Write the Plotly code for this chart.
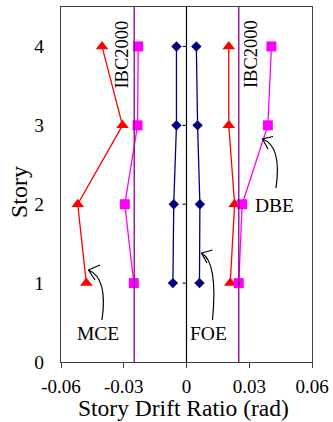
import plotly.graph_objects as go

stories = [1, 2, 3, 4]
mce_neg = [-0.0479, -0.0520, -0.0306, -0.0404]
mce_pos = [0.0209, 0.0230, 0.0202, 0.0202]
dbe_neg = [-0.0252, -0.0295, -0.0234, -0.0231]
dbe_pos = [0.0250, 0.0266, 0.0389, 0.0406]
foe_neg = [-0.0065, -0.0061, -0.0048, -0.0048]
foe_pos = [0.0062, 0.0064, 0.0053, 0.0047]
ibc_limit = 0.025
x_ticks = [-0.06, -0.03, 0, 0.03, 0.06]
x_tick_text = ["-0.06", "-0.03", "0", "0.03", "0.06"]
y_ticks = [0, 1, 2, 3, 4]
x_title = "Story Drift Ratio (rad)"
y_title = "Story"

FONT = "Liberation Serif, Times New Roman, serif"
W, H = 333, 422
L, R, T, B = 61, 21, 7, 60
PW, PH = W - L - R, H - T - B

def px2paper(px, py):
    return (px - L) / PW, (H - B - py) / PH

def pp(px, py):
    a, b = px2paper(px, py)
    return f"{a:.4f},{b:.4f}"

fig = go.Figure()

def add_series(xs, color, symbol, size):
    fig.add_trace(go.Scatter(
        x=xs, y=stories, mode="lines+markers",
        line=dict(color=color, width=1.3),
        marker=dict(color=color, symbol=symbol, size=size, line=dict(width=0)),
        showlegend=False, hoverinfo="skip"))

add_series(mce_neg, "#FF0000", "triangle-up", 11)
add_series(mce_pos, "#FF0000", "triangle-up", 11)
add_series(dbe_neg, "#FF00FF", "square", 10)
add_series(dbe_pos, "#FF00FF", "square", 10)
add_series(foe_neg, "#000080", "diamond", 8)
add_series(foe_pos, "#000080", "diamond", 8)

shapes = []
for xv in (-ibc_limit, ibc_limit):
    shapes.append(dict(type="line", xref="x", yref="paper", x0=xv, x1=xv, y0=0, y1=1,
                       line=dict(color="#8B008B", width=1.3)))
# zero axis line
shapes.append(dict(type="line", xref="x", yref="paper", x0=0, x1=0, y0=0, y1=1,
                   line=dict(color="black", width=1.2), layer="below"))
# small ticks on the zero axis
for s in stories:
    shapes.append(dict(type="line", xref="x", yref="y", xsizemode="pixel", xanchor=0,
                       x0=-4, x1=0, y0=s, y1=s, line=dict(color="black", width=1)))

# curved arrows
arrows = [
    # (start, control, tip, arm1, arm2)
    ((102, 320), (108, 278), (88.5, 270), (100, 265), (95, 280)),
    ((212.5, 320), (218, 262), (201.5, 253), (212.5, 250), (207, 263)),
    ((276, 188), (282, 146), (262.5, 139), (273, 136.5), (268, 149)),
]
for st, ctl, tip, a1, a2 in arrows:
    path = f"M {pp(*st)} Q {pp(*ctl)} {pp(*tip)}"
    shapes.append(dict(type="path", xref="paper", yref="paper", path=path,
                       line=dict(color="black", width=1.2)))
    path2 = f"M {pp(*a1)} L {pp(*tip)} L {pp(*a2)}"
    shapes.append(dict(type="path", xref="paper", yref="paper", path=path2,
                       line=dict(color="black", width=1.2)))

ann_font = dict(family=FONT, size=19.5, color="black")
xt_x, xt_y = px2paper(183, 408)
yt_x, yt_y = px2paper(19, 192)
annotations = [
    dict(x=-ibc_limit, y=3.9, xref="x", yref="y", text="IBC2000", textangle=-90,
         showarrow=False, xanchor="right", yanchor="middle", xshift=0,
         font=dict(family=FONT, size=18.5, color="black")),
    dict(x=ibc_limit, y=3.9, xref="x", yref="y", text="IBC2000", textangle=-90,
         showarrow=False, xanchor="left", yanchor="middle", xshift=1,
         font=dict(family=FONT, size=18.5, color="black")),
    dict(x=-0.0423, y=0.355, xref="x", yref="y", text="MCE", showarrow=False, font=ann_font),
    dict(x=0.0105, y=0.355, xref="x", yref="y", text="FOE", showarrow=False, font=ann_font),
    dict(x=0.042, y=1.99, xref="x", yref="y", text="DBE", showarrow=False, font=ann_font),
    dict(x=xt_x, y=xt_y, xref="paper", yref="paper", text=x_title, showarrow=False,
         xanchor="center", yanchor="middle",
         font=dict(family=FONT, size=23.5, color="black")),
    dict(x=yt_x, y=yt_y, xref="paper", yref="paper", text=y_title, showarrow=False,
         textangle=-90, xanchor="center", yanchor="middle",
         font=dict(family=FONT, size=24, color="black")),
]

fig.update_layout(
    width=W, height=H,
    margin=dict(l=L, r=R, t=T, b=B, autoexpand=False),
    paper_bgcolor="white", plot_bgcolor="white",
    font=dict(family=FONT, size=19, color="black"),
    shapes=shapes, annotations=annotations,
    xaxis=dict(range=[-0.06, 0.06], tickvals=x_ticks, ticktext=x_tick_text,
               showgrid=False, zeroline=False, showline=True, linecolor="#404040",
               linewidth=1.3, mirror=True, ticks="outside", ticklen=5,
               tickcolor="#404040", tickwidth=1.3, ticklabelstandoff=2,
               tickfont=dict(family=FONT, size=19, color="black"),
               automargin=False),
    yaxis=dict(range=[0, 4.5], tickvals=y_ticks, showgrid=False, zeroline=False,
               showline=True, linecolor="#404040", linewidth=1.3, mirror=True,
               ticks="", ticklabelstandoff=12, automargin=False,
               tickfont=dict(family=FONT, size=19.5, color="black")),
)

fig.write_html("out.html")
